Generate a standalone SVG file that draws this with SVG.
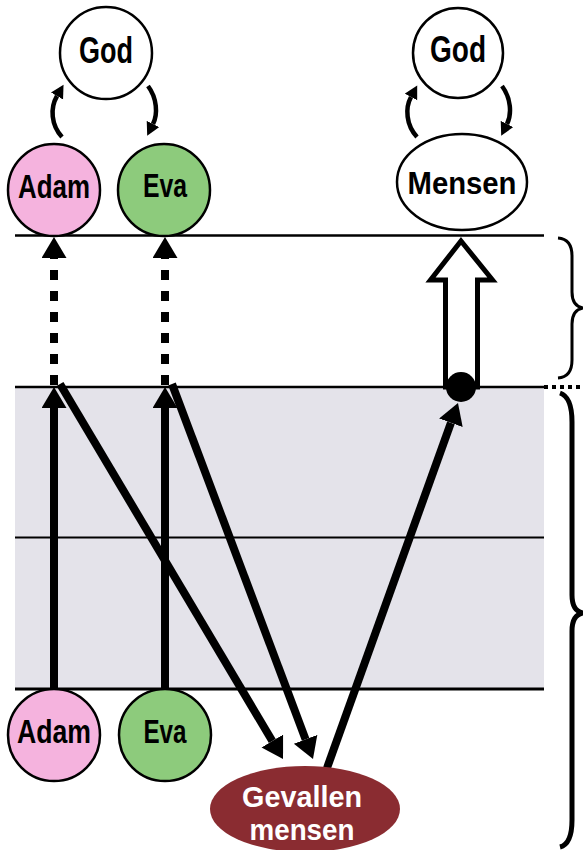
<svg xmlns="http://www.w3.org/2000/svg" width="583" height="850" viewBox="0 0 583 850">
<style>
.node{stroke:#000;stroke-width:2.5}
.lbl{font-family:"Liberation Sans Narrow","Liberation Sans",sans-serif;font-weight:bold;text-anchor:middle;fill:#000}
.wlbl{fill:#fff}
.hl{stroke:#000;fill:none}
.arr{stroke:#000;stroke-width:8;fill:none}
.curv{stroke:#000;stroke-width:4.5;fill:none}
</style>
<defs>
<marker id="big" markerUnits="userSpaceOnUse" markerWidth="22" markerHeight="26" refX="0" refY="12.5" orient="auto">
<path d="M0,0 L21,12.5 L0,25 z" fill="#000"/>
</marker>
<marker id="small" markerUnits="userSpaceOnUse" markerWidth="14" markerHeight="15" refX="0" refY="7" orient="auto">
<path d="M0,0 L13,7 L0,14 z" fill="#000"/>
</marker>
</defs>
<rect x="15" y="387" width="529" height="302" fill="#e4e3ea"/>
<g id="lines">
<line class="hl" x1="15" y1="235.5" x2="544" y2="235.5" stroke-width="2.5"/>
<line class="hl" x1="15" y1="387" x2="544" y2="387" stroke-width="2.5"/>
<line class="hl" x1="544" y1="387" x2="583" y2="387" stroke-width="4" stroke-dasharray="4 4"/>
<line class="hl" x1="15" y1="537.5" x2="544" y2="537.5" stroke-width="2"/>
<line class="hl" x1="15" y1="689" x2="544" y2="689" stroke-width="3"/>
</g>
<g id="braces">
<path class="hl" stroke-width="3" d="M558 238 Q572 239 572 256 L572 292 Q572 306 583 308 Q572 310 572 324 L572 360 Q572 377 558 378"/>
<path class="hl" stroke-width="5" d="M560 393 Q572 397 572 422 L572 595 Q572 611 583 613 Q572 615 572 631 L572 820 Q572 844 560 847"/>
</g>
<g id="connectors">
<path class="curv" marker-end="url(#small)" d="M62 137 C51 125 50 108 57 96"/>
<path class="curv" marker-end="url(#small)" d="M148 86 C157 98 158 114 153 124"/>
<path class="curv" marker-end="url(#small)" d="M417 137 C406 125 405 108 411 97"/>
<path class="curv" marker-end="url(#small)" d="M502 86 C511 98 512 114 507 124"/>
<line class="arr" x1="54" y1="385" x2="54" y2="258" stroke-dasharray="10 11" marker-end="url(#big)"/>
<line class="arr" x1="165" y1="385" x2="165" y2="258" stroke-dasharray="10 11" marker-end="url(#big)"/>
<line class="arr" x1="54" y1="689" x2="54" y2="408" marker-end="url(#big)"/>
<line class="arr" x1="165" y1="689" x2="165" y2="408" marker-end="url(#big)"/>
<line class="arr" x1="60" y1="384" x2="272.3" y2="741" marker-end="url(#big)"/>
<line class="arr" x1="172" y1="384" x2="305.6" y2="739.3" marker-end="url(#big)"/>
<line class="arr" x1="327" y1="768" x2="450.9" y2="422.8" marker-end="url(#big)"/>
<polygon points="461,241 492.5,280 477.5,280 477.5,387 445.5,387 445.5,280 430.5,280" fill="#fff" stroke="#000" stroke-width="5"/>
<circle cx="461" cy="387" r="15" fill="#000"/>
</g>
<g id="god-left">
<circle class="node" cx="106" cy="53" r="46" fill="#fff"/>
<text class="lbl" x="106" y="63" font-size="36" textLength="54" lengthAdjust="spacingAndGlyphs">God</text>
</g>
<g id="adam-top">
<circle class="node" cx="54" cy="190" r="46" fill="#f5b3de"/>
<text class="lbl" x="54" y="198" font-size="34" textLength="72" lengthAdjust="spacingAndGlyphs">Adam</text>
</g>
<g id="eva-top">
<circle class="node" cx="164" cy="190" r="46" fill="#8dcb7c"/>
<text class="lbl" x="165" y="197" font-size="34" textLength="44" lengthAdjust="spacingAndGlyphs">Eva</text>
</g>
<g id="god-right">
<circle class="node" cx="458" cy="53" r="45" fill="#fff"/>
<text class="lbl" x="458" y="62" font-size="36" textLength="56" lengthAdjust="spacingAndGlyphs">God</text>
</g>
<g id="mensen">
<ellipse class="node" cx="462" cy="182" rx="65" ry="48" fill="#fff"/>
<text class="lbl" x="462" y="194" font-size="32" textLength="109" lengthAdjust="spacingAndGlyphs">Mensen</text>
</g>
<g id="adam-bottom">
<circle class="node" cx="54" cy="735" r="46" fill="#f5b3de"/>
<text class="lbl" x="54" y="743" font-size="34" textLength="74" lengthAdjust="spacingAndGlyphs">Adam</text>
</g>
<g id="eva-bottom">
<circle class="node" cx="165" cy="735" r="46" fill="#8dcb7c"/>
<text class="lbl" x="165" y="743" font-size="34" textLength="43" lengthAdjust="spacingAndGlyphs">Eva</text>
</g>
<g id="gevallen">
<ellipse cx="305" cy="809" rx="95" ry="43" fill="#8a2c31"/>
<text class="lbl wlbl" x="302" y="807" font-size="30" textLength="120" lengthAdjust="spacingAndGlyphs">Gevallen</text>
<text class="lbl wlbl" x="302" y="840" font-size="30" textLength="105" lengthAdjust="spacingAndGlyphs">mensen</text>
</g>
</svg>
